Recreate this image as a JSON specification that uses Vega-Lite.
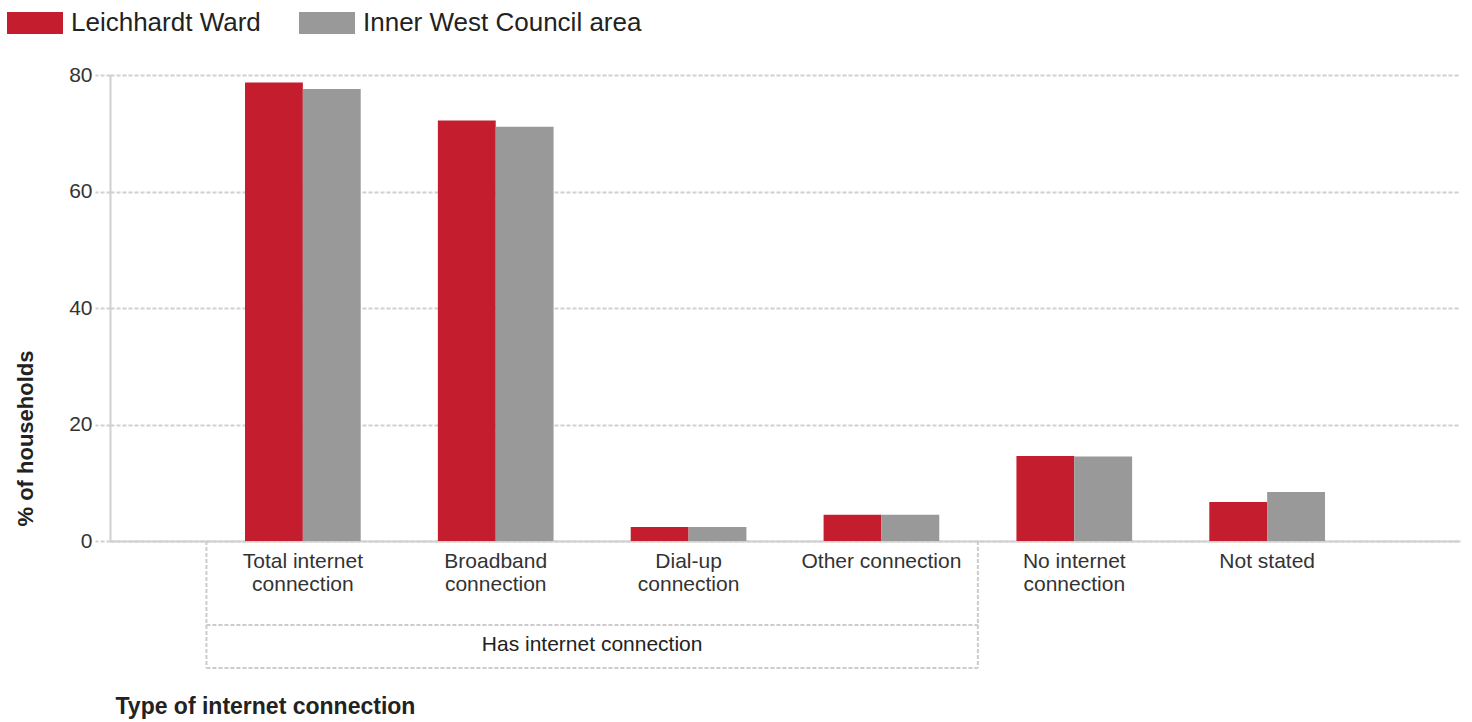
{
  "$schema": "https://vega.github.io/schema/vega-lite/v6.json",
  "autosize": {"type": "none"},
  "width": 1350,
  "height": 466,
  "padding": {"left": 110, "top": 75, "right": 12, "bottom": 181},
  "background": "white",
  "config": {
    "font": "Liberation Sans",
    "view": {"stroke": null}
  },
  "datasets": {
    "bars": [
      {"category": "Total internet connection", "area": "Leichhardt Ward", "percent": 78.7},
      {"category": "Total internet connection", "area": "Inner West Council area", "percent": 77.6},
      {"category": "Broadband connection", "area": "Leichhardt Ward", "percent": 72.2},
      {"category": "Broadband connection", "area": "Inner West Council area", "percent": 71.1},
      {"category": "Dial-up connection", "area": "Leichhardt Ward", "percent": 2.4},
      {"category": "Dial-up connection", "area": "Inner West Council area", "percent": 2.4},
      {"category": "Other connection", "area": "Leichhardt Ward", "percent": 4.5},
      {"category": "Other connection", "area": "Inner West Council area", "percent": 4.5},
      {"category": "No internet connection", "area": "Leichhardt Ward", "percent": 14.6},
      {"category": "No internet connection", "area": "Inner West Council area", "percent": 14.5},
      {"category": "Not stated", "area": "Leichhardt Ward", "percent": 6.7},
      {"category": "Not stated", "area": "Inner West Council area", "percent": 8.4}
    ],
    "bracketLines": [
      {"pos": 0.5, "pos2": 0.5, "v": 0, "v2": -21.8},
      {"pos": 4.5, "pos2": 4.5, "v": 0, "v2": -21.8},
      {"pos": 0.5, "pos2": 4.5, "v": -14.4, "v2": -14.4},
      {"pos": 0.5, "pos2": 4.5, "v": -21.8, "v2": -21.8}
    ],
    "bracketLabel": [
      {"pos": 2.5, "v": -17.9, "label": "Has internet connection"}
    ]
  },
  "layer": [
    {
      "data": {"name": "bars"},
      "mark": {"type": "bar"},
      "encoding": {
        "x": {
          "field": "category",
          "type": "nominal",
          "sort": null,
          "scale": {"paddingInner": 0, "paddingOuter": 0.5},
          "axis": {
            "title": "Type of internet connection",
            "titleFont": "Liberation Sans",
            "titleFontSize": 23,
            "titleFontWeight": "bold",
            "titleColor": "#222222",
            "titleX": 5,
            "titleY": 165,
            "titleAlign": "left",
            "titleAnchor": null,
            "titleBaseline": "middle",
            "labelAngle": 0,
            "labelFontSize": 21,
            "labelColor": "#333333",
            "labelPadding": 9,
            "labelLineHeight": 23,
            "labelLimit": 0,
            "labelBaseline": "top",
            "labelExpr": "datum.value == 'Total internet connection' ? ['Total internet', 'connection'] : datum.value == 'Broadband connection' ? ['Broadband', 'connection'] : datum.value == 'Dial-up connection' ? ['Dial-up', 'connection'] : datum.value == 'No internet connection' ? ['No internet', 'connection'] : datum.value",
            "ticks": false,
            "domainColor": "#d0d0d0",
            "domainWidth": 2,
            "grid": false
          }
        },
        "xOffset": {
          "field": "area",
          "type": "nominal",
          "sort": ["Leichhardt Ward", "Inner West Council area"],
          "scale": {"paddingInner": 0, "paddingOuter": 0.667}
        },
        "y": {
          "field": "percent",
          "type": "quantitative",
          "scale": {"domain": [0, 80], "nice": false},
          "axis": {
            "title": "% of households",
            "titleFontSize": 22,
            "titleFontWeight": "bold",
            "titleColor": "#222222",
            "titleX": -85,
            "titleY": 363,
            "titleAngle": 270,
            "titleAlign": "center",
            "titleBaseline": "middle",
            "values": [0, 20, 40, 60, 80],
            "labelFontSize": 21,
            "labelColor": "#333333",
            "labelPadding": 3,
            "tickSize": 15,
            "tickColor": "#d0d0d0",
            "tickDash": [4, 2],
            "tickWidth": 2,
            "domainColor": "#d0d0d0",
            "domainWidth": 2,
            "grid": true,
            "gridColor": "#d0d0d0",
            "gridDash": [4, 2],
            "gridWidth": 2
          }
        },
        "color": {
          "field": "area",
          "type": "nominal",
          "sort": ["Leichhardt Ward", "Inner West Council area"],
          "scale": {"domain": ["Leichhardt Ward", "Inner West Council area"], "range": ["#C41E2E", "#999999"]},
          "legend": {
            "title": null,
            "orient": "none",
            "direction": "horizontal",
            "legendX": -103,
            "legendY": -80,
            "symbolType": "M-1,-0.393H1V0.393H-1Z",
            "symbolSize": 3136,
            "symbolStrokeWidth": 0,
            "symbolOpacity": 1,
            "labelFontSize": 26,
            "labelLimit": 0,
            "labelColor": "#222222",
            "labelOffset": 8,
            "columnPadding": 38
          }
        }
      }
    },
    {
      "data": {"name": "bracketLines"},
      "mark": {"type": "rule", "color": "#cccccc", "strokeWidth": 2, "strokeDash": [4, 2]},
      "encoding": {
        "x": {"field": "pos", "type": "quantitative", "scale": {"domain": [0, 7], "nice": false, "zero": false}, "axis": null},
        "x2": {"field": "pos2"},
        "y": {"field": "v", "type": "quantitative", "scale": {"domain": [0, 80], "nice": false}, "axis": null},
        "y2": {"field": "v2"}
      }
    },
    {
      "data": {"name": "bracketLabel"},
      "mark": {"type": "text", "fontSize": 21, "color": "#222222", "align": "center", "baseline": "middle"},
      "encoding": {
        "x": {"field": "pos", "type": "quantitative", "scale": {"domain": [0, 7], "nice": false, "zero": false}, "axis": null},
        "y": {"field": "v", "type": "quantitative", "scale": {"domain": [0, 80], "nice": false}, "axis": null},
        "text": {"field": "label"}
      }
    }
  ],
  "resolve": {"scale": {"x": "independent", "y": "independent"}}
}
